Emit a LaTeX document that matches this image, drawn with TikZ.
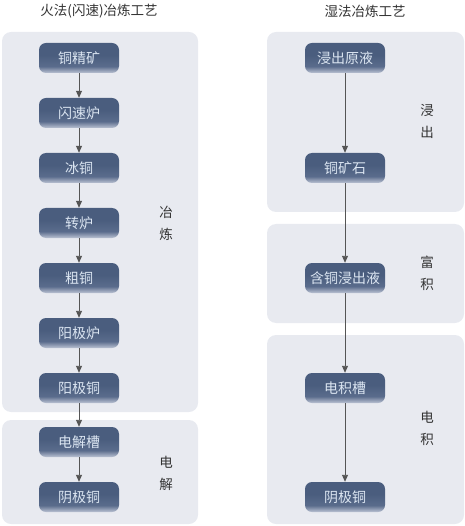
\documentclass[tikz,border=0pt]{standalone}
\usepackage{fontspec}
\setmainfont{Noto Sans CJK SC}
\usetikzlibrary{arrows.meta}
\definecolor{panelbg}{HTML}{E8EAF0}
\definecolor{boxtop}{HTML}{4A5D7E}
\definecolor{boxmid}{HTML}{5A6C8C}
\definecolor{boxbot}{HTML}{BCC3D4}
\definecolor{boxtext}{HTML}{DCE6F2}
\definecolor{linkgray}{HTML}{555555}
\definecolor{labelgray}{HTML}{333333}
\pgfdeclareverticalshading{boxshade}{100bp}{color(0bp)=(boxbot); color(25bp)=(boxbot);
    color(36bp)=(boxmid); color(55bp)=(boxtop); color(100bp)=(boxtop)}
\begin{document}
\begin{tikzpicture}[x=1pt, y=-1pt,
    panel/.style={fill=panelbg, rounded corners=9pt},
    stepbox/.style={rounded corners=7pt, minimum width=80pt, minimum height=30pt,
        shading=boxshade, text=boxtext, font=\fontsize{14}{15}\selectfont, inner sep=0pt},
    link/.style={draw=linkgray, line width=0.9pt, -{Triangle[length=7pt, width=6pt]}},
    side/.style={text=labelgray, font=\fontsize{13.5}{14}\selectfont, align=center},
    title/.style={text=labelgray, font=\fontsize{13.5}{15}\selectfont}]
    \useasboundingbox (0,0) rectangle (464,526);
    % panels
    \fill[panel] (2,32) rectangle (198,412);
    \fill[panel] (2,420) rectangle (198,524);
    \fill[panel] (267,32) rectangle (464,212);
    \fill[panel] (267,224) rectangle (464,323);
    \fill[panel] (267,335) rectangle (464,524);
    % titles
    \node[title] (tfire) at (99,11) {火法(闪速)冶炼工艺};
    \node[title] (twet) at (365,11) {湿法冶炼工艺};
    % left chain
    \node[stepbox] (f1) at (79,58) {铜精矿};
    \node[stepbox] (f2) at (79,113) {闪速炉};
    \node[stepbox] (f3) at (79,168) {冰铜};
    \node[stepbox] (f4) at (79,223) {转炉};
    \node[stepbox] (f5) at (79,278) {粗铜};
    \node[stepbox] (f6) at (79,333) {阳极炉};
    \node[stepbox] (f7) at (79,388) {阳极铜};
    \node[stepbox] (f8) at (79,442) {电解槽};
    \node[stepbox] (f9) at (79,497) {阴极铜};
    \foreach \a/\b in {f1/f2, f2/f3, f3/f4, f4/f5, f5/f6, f6/f7, f7/f8, f8/f9}
        \draw[link] (\a) -- (\b);
    % right chain
    \node[stepbox] (w1) at (345,58) {浸出原液};
    \node[stepbox] (w2) at (345,168) {铜矿石};
    \node[stepbox] (w3) at (345,278) {含铜浸出液};
    \node[stepbox] (w4) at (345,388) {电积槽};
    \node[stepbox] (w5) at (345,497) {阴极铜};
    \foreach \a/\b in {w1/w2, w2/w3, w3/w4, w4/w5}
        \draw[link] (\a) -- (\b);
    % side labels
    \node[side] (lsmelt) at (166,223) {冶\\[8pt]炼};
    \node[side] (lelec) at (166,473) {电\\[8pt]解};
    \node[side] (lleach) at (427,121) {浸\\[8pt]出};
    \node[side] (lenrich) at (427,273) {富\\[8pt]积};
    \node[side] (lwin) at (427,428) {电\\[8pt]积};
\end{tikzpicture}
\end{document}
